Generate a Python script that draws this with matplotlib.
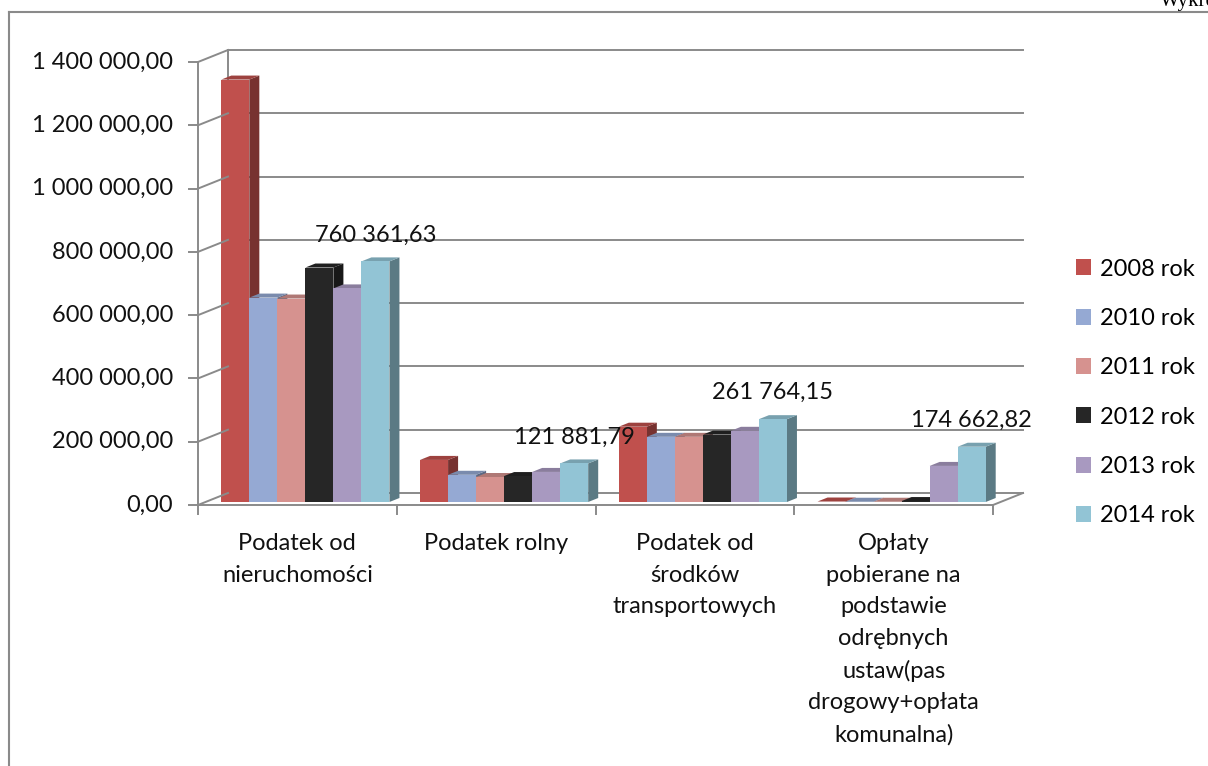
import matplotlib
matplotlib.use("Agg")
import matplotlib.pyplot as plt
from matplotlib.patches import Polygon, Patch
from matplotlib.lines import Line2D
from matplotlib.transforms import ScaledTranslation

categories = [
    "Podatek od\nnieruchomości",
    "Podatek rolny",
    "Podatek od\nśrodków\ntransportowych",
    "Opłaty\npobierane na\npodstawie\nodrębnych\nustaw(pas\ndrogowy+opłata\nkomunalna)",
]
years = ["2008 rok", "2010 rok", "2011 rok", "2012 rok", "2013 rok", "2014 rok"]

v2008 = [1335000, 133000, 238000, 1500]
v2010 = [646000, 86000, 206000, 800]
v2011 = [643000, 79000, 206000, 800]
v2012 = [741000, 82000, 213000, 3000]
v2013 = [675000, 95000, 225000, 114000]
v2014 = [760361.63, 121881.79, 261764.15, 174662.82]
series = [v2008, v2010, v2011, v2012, v2013, v2014]

colors = ["#C0504D", "#95A9D3", "#D6928F", "#262626", "#A899C0", "#92C4D5"]
y_ticks = [0, 200000, 400000, 600000, 800000, 1000000, 1200000, 1400000]

FONT = "Lato"
FS = 17
GRID = "#8a8a8a"
W, H = 1208, 766


def fmt(v):
    return f"{v:,.2f}".replace(",", " ").replace(".", ",")


def shade(c, f):
    r, g, b = matplotlib.colors.to_rgb(c)
    return (r * f, g * f, b * f)


fig = plt.figure(figsize=(W / 100, H / 100), dpi=100)
ax = fig.add_axes([198 / W, (H - 505) / H, 795 / W, 443 / H])
ax.set_xlim(0, 4)
ax.set_ylim(0, 1400000)
ax.axis("off")


def shifted(dx, dy):
    return ax.transData + ScaledTranslation(dx / 100, dy / 100, fig.dpi_scale_trans)


def seg(p0, p1, lw=1.4):
    fig.add_artist(Line2D([p0[0] / W, p1[0] / W], [p0[1] / H, p1[1] / H], color=GRID, lw=lw))


back = shifted(30, 12)
front = ax.transData

# back wall gridlines, diagonals to the axis, and tick marks
for v in y_ticks:
    ax.plot([0, 4], [v, v], color=GRID, lw=1.4, transform=back, clip_on=False)
    p0 = front.transform((0, v))
    p1 = back.transform((0, v))
    seg(p0, p1)
    seg(p0 - (9, 0), p0)
ax.plot([0, 0], [0, 1400000], color=GRID, lw=1.4, transform=back, clip_on=False)
ax.plot([0, 0], [0, 1400000], color=GRID, lw=1.4, clip_on=False)

# floor
ax.plot([0, 4], [0, 0], color=GRID, lw=1.4, clip_on=False)
seg(front.transform((4, 0)), back.transform((4, 0)))
for i in range(5):
    p = front.transform((i, 0))
    seg(p, p - (0, 9))

# bars with 3d faces
bw = 0.141
n = len(series)
bar_tr = shifted(8, 3)
dx, dy = 10, 4
inv = fig.transFigure.inverted()
for i in range(len(categories)):
    x0 = i + 0.5 - n * bw / 2
    for j, vals in enumerate(series):
        left = x0 + j * bw
        h = vals[i]
        c = colors[j]
        bl = bar_tr.transform((left, 0))
        br = bar_tr.transform((left + bw, 0))
        tl = bar_tr.transform((left, h))
        tr = bar_tr.transform((left + bw, h))
        side = [br, br + (dx, dy), tr + (dx, dy), tr]
        top = [tl, tr, tr + (dx, dy), tl + (dx, dy)]
        fig.add_artist(Polygon(inv.transform(side), closed=True, fc=shade(c, 0.62), ec="none"))
        fig.add_artist(Polygon(inv.transform(top), closed=True, fc=shade(c, 0.82), ec="none"))
        fig.add_artist(Polygon(inv.transform([bl, br, tr, tl]), closed=True, fc=c, ec="none"))
    # data label above the 2014 bar
    lx = x0 + (n - 1) * bw + bw / 2
    p = bar_tr.transform((lx, v2014[i]))
    fig.text(p[0] / W, (p[1] + 20) / H, fmt(v2014[i]), ha="center", va="baseline",
             family=FONT, fontsize=FS, color="#111111")

# y tick labels
for v in y_ticks:
    p = front.transform((0, v))
    fig.text((p[0] - 25) / W, p[1] / H, fmt(v), ha="right", va="center",
             family=FONT, fontsize=FS, color="#111111")

# category labels
for i, lab in enumerate(categories):
    p = front.transform((i + 0.5, 0))
    fig.text(p[0] / W, (p[1] - 28) / H, lab, ha="center", va="top",
             family=FONT, fontsize=FS, color="#111111", linespacing=1.62)

handles = [Patch(facecolor=c, edgecolor="none") for c in colors]
fig.legend(handles, years, loc="center left", bbox_to_anchor=(1076 / W, 1 - 392.5 / H),
           frameon=False, borderpad=0, borderaxespad=0, handlelength=0.65, handleheight=0.65,
           handletextpad=0.35, labelspacing=1.2, prop={"family": FONT, "size": FS})

# outer frame and clipped caption
seg((9, 0), (9, H - 12), lw=1.5)
seg((9, H - 12), (W, H - 12), lw=1.5)
fig.text(1160 / W, 1 - 6 / H, "Wykres", family="Liberation Serif", fontsize=15,
         va="baseline", ha="left")

fig.savefig("out.png", dpi=100)
